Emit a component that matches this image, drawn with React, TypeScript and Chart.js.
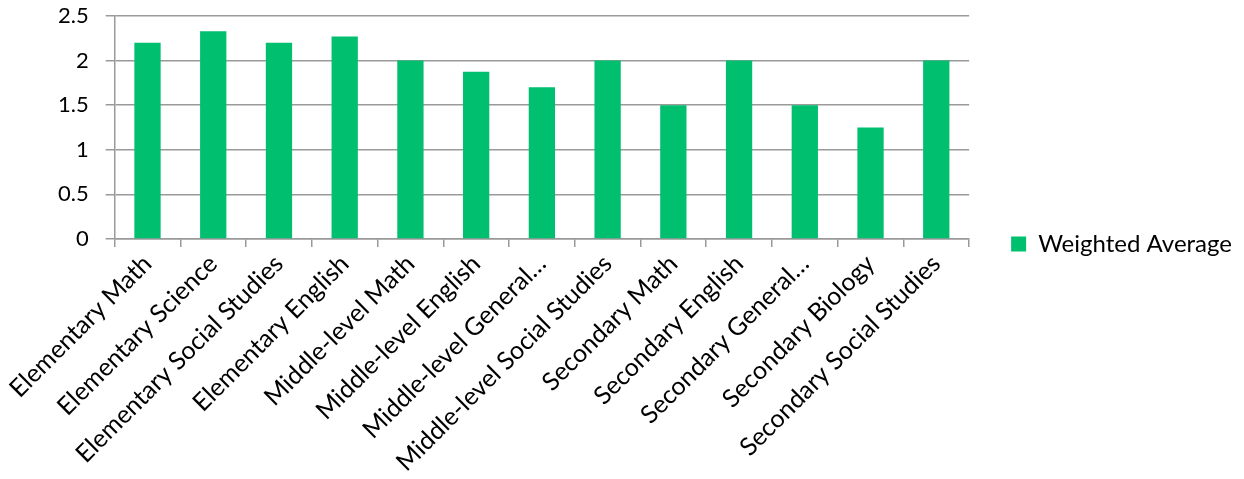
import React, { useEffect, useRef } from "react";
import { Chart, registerables } from "chart.js";

Chart.register(...registerables);

const categories = [
  "Elementary Math",
  "Elementary Science",
  "Elementary Social Studies",
  "Elementary English",
  "Middle-level Math",
  "Middle-level English",
  "Middle-level General…",
  "Middle-level Social Studies",
  "Secondary Math",
  "Secondary English",
  "Secondary General…",
  "Secondary Biology",
  "Secondary Social Studies",
];

const weightedAverage = [2.2, 2.33, 2.2, 2.27, 2.0, 1.875, 1.7, 2.0, 1.5, 2.0, 1.5, 1.25, 2.0];

const yTicks = [0, 0.5, 1, 1.5, 2, 2.5];

const FONT = "Lato, 'Open Sans', sans-serif";
const GRID = "#9a9a9a";

export default function App() {
  const ref = useRef<HTMLCanvasElement | null>(null);
  useEffect(() => {
    if (!ref.current) return;
    const chart = new Chart(ref.current, {
      type: "bar",
      data: {
        labels: categories,
        datasets: [
          {
            label: "Weighted Average",
            data: weightedAverage,
            backgroundColor: "#00BF6F",
            borderWidth: 0,
            categoryPercentage: 1,
            barPercentage: 0.4,
          },
        ],
      },
      options: {
        responsive: false,
        animation: false,
        layout: { padding: { top: 8, right: -6, left: 0, bottom: -1 } },
        plugins: {
          tooltip: { enabled: false },
          legend: {
            position: "right",
            labels: {
              boxWidth: 15,
              boxHeight: 15,
              color: "#000",
              font: { family: FONT, size: 24 },
              padding: 42,
            },
          },
        },
        scales: {
          x: {
            grid: {
              offset: true,
              drawOnChartArea: false,
              drawTicks: true,
              tickLength: 8,
              color: GRID,
              lineWidth: 1.5,
            },
            border: { color: GRID, width: 1.5 },
            ticks: {
              autoSkip: false,
              minRotation: 45,
              maxRotation: 45,
              color: "#000",
              font: { family: FONT, size: 25 },
              padding: 2,
            },
            afterFit: (s: any) => {
              s.height = 233;
              s.paddingTop = 0;
            },
          },
          y: {
            min: 0,
            max: 2.5,
            afterBuildTicks: (s: any) => {
              s.ticks = yTicks.map((v) => ({ value: v }));
            },
            grid: {
              color: GRID,
              lineWidth: 1.5,
              tickLength: 9,
            },
            border: { color: GRID, width: 1.5 },
            ticks: {
              color: "#000",
              font: { family: FONT, size: 22 },
              padding: 17,
              callback: (v: any) => String(v),
            },
            afterFit: (s: any) => {
              s.width = 105;
              s.paddingTop = 0;
              s.paddingBottom = 0;
            },
          },
        },
      },
    });
    return () => chart.destroy();
  }, []);
  return (
    <div style={{ width: 1228, height: 463 }}>
      <canvas ref={ref} width={1228} height={463} style={{ display: "block" }} />
    </div>
  );
}
